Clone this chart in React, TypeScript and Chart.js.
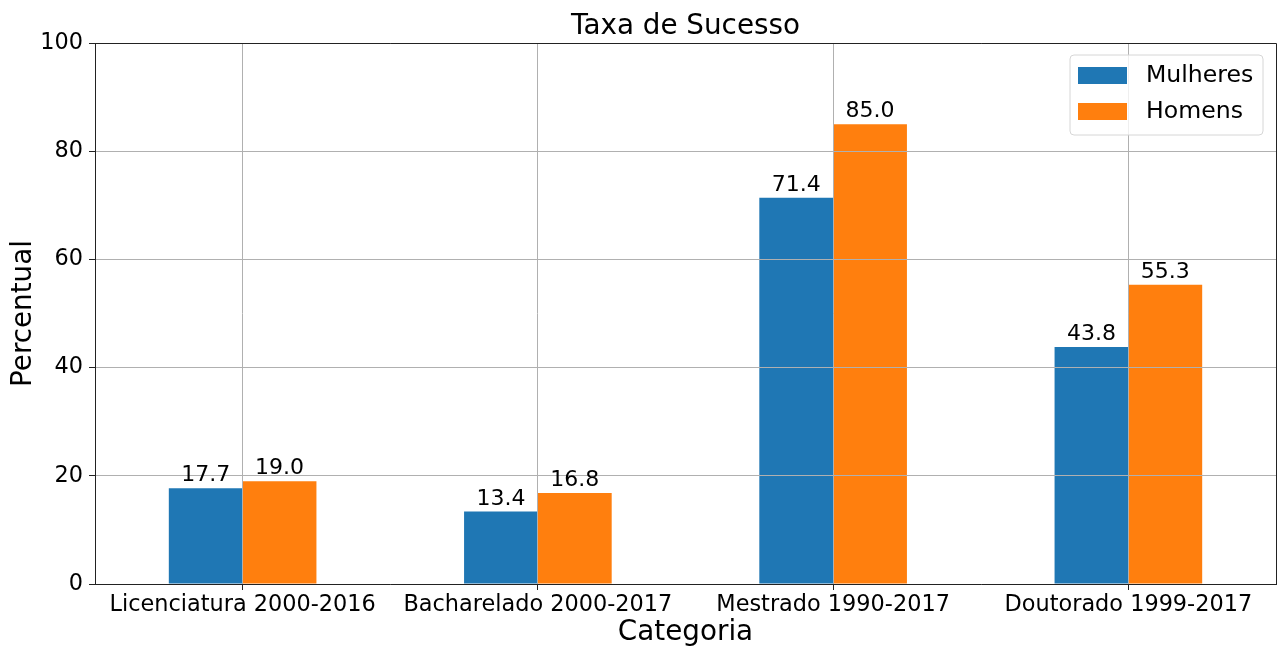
import React, { useEffect, useRef } from "react";
import { Chart, registerables } from "chart.js";

Chart.register(...registerables);

const categories = [
  "Licenciatura 2000-2016",
  "Bacharelado 2000-2017",
  "Mestrado 1990-2017",
  "Doutorado 1999-2017",
];
const mulheres = [17.7, 13.4, 71.4, 43.8];
const homens = [19.0, 16.8, 85.0, 55.3];
const seriesNames = ["Mulheres", "Homens"];
const yTicks = [0, 20, 40, 60, 80, 100];
const titleText = "Taxa de Sucesso";
const xTitle = "Categoria";
const yTitle = "Percentual";

const FONT = "'DejaVu Sans', sans-serif";
const BLUE = "#1f77b4";
const ORANGE = "#ff7f0e";

const overlayPlugin = {
  id: "overlay",
  afterDraw(chart: any) {
    const ctx = chart.ctx;
    const area = chart.chartArea;
    ctx.save();
    // data labels
    ctx.fillStyle = "#000";
    ctx.font = `22px ${FONT}`;
    ctx.textAlign = "center";
    ctx.textBaseline = "alphabetic";
    chart.data.datasets.forEach((ds: any, di: number) => {
      const meta = chart.getDatasetMeta(di);
      meta.data.forEach((bar: any, i: number) => {
        ctx.fillText(Number(ds.data[i]).toFixed(1), bar.x, bar.y - 7);
      });
    });
    // top and right border
    ctx.strokeStyle = "#222";
    ctx.lineWidth = 1;
    ctx.beginPath();
    ctx.moveTo(Math.round(area.left) + 0.5, Math.round(area.top) + 0.5);
    ctx.lineTo(Math.round(area.right) + 0.5, Math.round(area.top) + 0.5);
    ctx.lineTo(Math.round(area.right) + 0.5, Math.round(area.bottom) + 0.5);
    ctx.stroke();
    // legend
    const lx = 1070, ly = 55, lw = 193, lh = 80, r = 4;
    ctx.beginPath();
    ctx.moveTo(lx + r, ly);
    ctx.lineTo(lx + lw - r, ly);
    ctx.quadraticCurveTo(lx + lw, ly, lx + lw, ly + r);
    ctx.lineTo(lx + lw, ly + lh - r);
    ctx.quadraticCurveTo(lx + lw, ly + lh, lx + lw - r, ly + lh);
    ctx.lineTo(lx + r, ly + lh);
    ctx.quadraticCurveTo(lx, ly + lh, lx, ly + lh - r);
    ctx.lineTo(lx, ly + r);
    ctx.quadraticCurveTo(lx, ly, lx + r, ly);
    ctx.closePath();
    ctx.fillStyle = "rgba(255,255,255,0.8)";
    ctx.fill();
    ctx.strokeStyle = "#d6d6d6";
    ctx.stroke();
    const colors = [BLUE, ORANGE];
    const rowsY = [67, 103];
    seriesNames.forEach((name, i) => {
      ctx.fillStyle = colors[i];
      ctx.fillRect(1078, rowsY[i], 49, 17);
      ctx.fillStyle = "#000";
      ctx.font = `23.6px ${FONT}`;
      ctx.textAlign = "left";
      ctx.textBaseline = "middle";
      ctx.fillText(name, 1146, rowsY[i] + 9);
    });
    // title
    const cx = (area.left + area.right) / 2;
    ctx.fillStyle = "#000";
    ctx.textAlign = "center";
    ctx.textBaseline = "alphabetic";
    ctx.font = `27.8px ${FONT}`;
    ctx.fillText(titleText, cx, 34);
    // x title
    ctx.font = `27.8px ${FONT}`;
    ctx.fillText(xTitle, cx, 640);
    // y title
    ctx.save();
    ctx.translate(31, (area.top + area.bottom) / 2);
    ctx.rotate(-Math.PI / 2);
    ctx.fillText(yTitle, 0, 0);
    ctx.restore();
    ctx.restore();
  },
};

export default function App() {
  const ref = useRef<HTMLCanvasElement>(null);
  useEffect(() => {
    document.body.style.margin = "0";
    Chart.defaults.font.family = FONT;
    const chart = new Chart(ref.current as HTMLCanvasElement, {
      type: "bar",
      data: {
        labels: categories,
        datasets: [
          { label: seriesNames[0], data: mulheres, backgroundColor: BLUE, borderWidth: 0 },
          { label: seriesNames[1], data: homens, backgroundColor: ORANGE, borderWidth: 0 },
        ],
      },
      options: {
        responsive: false,
        animation: false,
        devicePixelRatio: 1,
        layout: { padding: { left: 0, right: 4, top: 43, bottom: 0 } },
        datasets: { bar: { categoryPercentage: 0.5, barPercentage: 1.0 } },
        plugins: {
          legend: { display: false },
          title: { display: false },
          tooltip: { enabled: false },
        },
        scales: {
          x: {
            offset: true,
            afterFit: (s: any) => {
              s.height = 68;
            },
            grid: {
              offset: false,
              color: "#b0b0b0",
              lineWidth: 1,
              tickLength: 6,
              tickColor: "#222",
              z: 1,
            },
            border: { color: "#222", width: 1, z: 2 },
            ticks: { color: "#000", font: { size: 22.4, family: FONT }, padding: 2, maxRotation: 0, autoSkip: false, z: 2 },
          },
          y: {
            min: 0,
            max: 100,
            afterFit: (s: any) => {
              s.width = 95;
            },
            afterBuildTicks: (s: any) => {
              s.ticks = yTicks.map((v) => ({ value: v }));
            },
            grid: {
              color: "#b0b0b0",
              lineWidth: 1,
              tickLength: 6,
              tickColor: "#222",
              z: 1,
            },
            border: { color: "#222", width: 1, z: 2 },
            ticks: { color: "#000", font: { size: 22.4, family: FONT }, padding: 6, z: 2 },
          },
        },
      },
      plugins: [overlayPlugin],
    });
    return () => chart.destroy();
  }, []);
  return <canvas ref={ref} width={1280} height={652} style={{ display: "block", width: 1280, height: 652 }} />;
}
